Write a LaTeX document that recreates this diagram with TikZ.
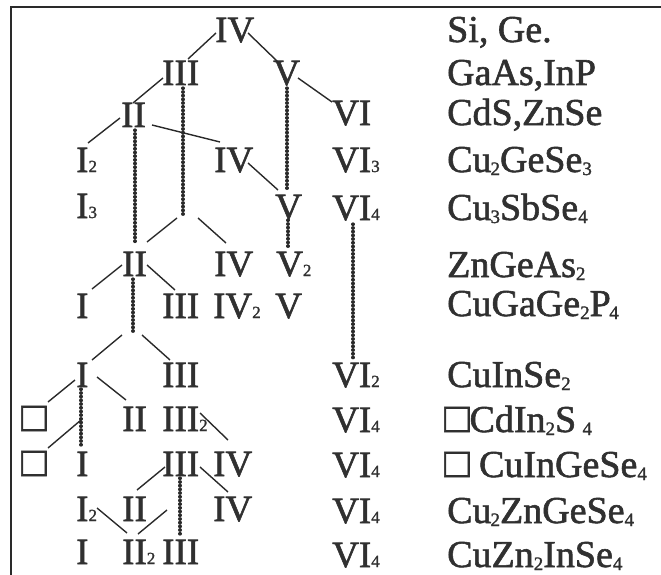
\documentclass[tikz,border=0pt]{standalone}
\usepackage{fontspec}
\setmainfont{Liberation Serif}[FakeBold=1.5]
\definecolor{txt}{HTML}{303030}
\definecolor{ln}{HTML}{2A2A2A}
\newcommand\lsub[1]{{\fontsize{17}{17}\selectfont #1}}
\newcommand\rsub[1]{\raisebox{-3pt}{\fontsize{19}{19}\selectfont #1}}
\newcommand\sqsym{{\fontsize{42}{42}\selectfont □}}
\begin{document}
\begin{tikzpicture}[x=1pt,y=-1pt,
  num/.style={anchor=base west,inner sep=0pt,font=\fontsize{37}{37}\selectfont,text=txt},
  frm/.style={anchor=base west,inner sep=0pt,font=\fontsize{38}{38}\selectfont,text=txt},
  link/.style={draw=ln,line width=1.4pt},
  chain/.style={draw=ln,line width=3.2pt,line cap=round,dash pattern=on 0.5pt off 3.2pt}]
\path[use as bounding box] (0,0) rectangle (661,575);
\draw[line width=1.5pt,draw=ln] (11,575) -- (11,7) -- (661,7);
% tree
\node[num] (a1) at (215,42) {IV};
\node[num] (b1) at (162,85) {III};
\node[num] (b2) at (273,85) {V};
\node[num] (c1) at (121,127) {II};
\node[num] (c2) at (332,125) {VI};
\node[num] (d1) at (76,172) {I\lsub{2}};
\node[num] (d2) at (214,172) {IV};
\node[num] (d3) at (332,172) {VI\lsub{3}};
\node[num] (e1) at (76,218) {I\lsub{3}};
\node[num] (e2) at (275,219) {V};
\node[num] (e3) at (332,220) {VI\lsub{4}};
\node[num] (f1) at (122,276) {II};
\node[num] (f2) at (214,276) {IV};
\node[num] (f3) at (276,276) {V\lsub{2}};
\node[num] (g1) at (76,318) {I};
\node[num] (g2) at (162,318) {III};
\node[num] (g3) at (213,318) {IV\lsub{2}};
\node[num] (g4) at (275,318) {V};
\node[num] (h1) at (76,387) {I};
\node[num] (h2) at (162,387) {III};
\node[num] (h3) at (332,387) {VI\lsub{2}};
\node[num] (i0) at (21,431) {\sqsym};
\node[num] (i1) at (122,431) {II};
\node[num] (i2) at (162,431) {III\lsub{2}};
\node[num] (i3) at (332,432) {VI\lsub{4}};
\node[num] (j0) at (21,476) {\sqsym};
\node[num] (j1) at (76,476) {I};
\node[num] (j2) at (162,476) {III};
\node[num] (j3) at (213,476) {IV};
\node[num] (j4) at (332,477) {VI\lsub{4}};
\node[num] (k1) at (76,521) {I\lsub{2}};
\node[num] (k2) at (122,521) {II};
\node[num] (k3) at (213,521) {IV};
\node[num] (k4) at (332,523) {VI\lsub{4}};
\node[num] (l1) at (76,564) {I};
\node[num] (l2) at (122,564) {II\lsub{2}};
\node[num] (l3) at (162,564) {III};
\node[num] (l4) at (332,567) {VI\lsub{4}};
% formulas
\node[frm] (r1) at (447,42) {Si, Ge.};
\node[frm] (r2) at (447,85) {GaAs,InP};
\node[frm] (r3) at (447,125) {CdS,ZnSe};
\node[frm] (r4) at (447,172) {Cu\kern-1pt\rsub{2}GeSe\rsub{3}};
\node[frm] (r5) at (447,220) {Cu\kern-1pt\rsub{3}SbSe\rsub{4}};
\node[frm] (r6) at (447,277) {ZnGeAs\rsub{2}};
\node[frm] (r7) at (447,316) {CuGaGe\rsub{2}P\kern-1.5pt\rsub{4}};
\node[frm] (r8) at (447,387) {CuInSe\rsub{2}};
\node[frm] (r9) at (444,432) {\sqsym CdIn\rsub{2}S\,\rsub{4}};
\node[frm] (r10) at (444,477) {\sqsym\ CuInGeSe\rsub{4}};
\node[frm] (r11) at (447,523) {Cu\kern-1pt\rsub{2}ZnGeSe\rsub{4}};
\node[frm] (r12) at (447,567) {CuZn\rsub{2}InSe\rsub{4}};
% branch points
\coordinate (t1) at (183,216);
\coordinate (t2) at (133,332);
\coordinate (t4) at (81,420);
\coordinate (t6) at (167,510);
% solid connectors
\draw[link] ([shift={(1,-9)}]a1.base west) -- ([shift={(26,-26)}]b1.base west);
\draw[link] ([shift={(33,-9)}]a1.base west) -- ([shift={(5,-23)}]b2.base west);
\draw[link] ([shift={(1,-7)}]b1.base west) -- ([shift={(12,-24)}]c1.base west);
\draw[link] ([shift={(25,-7)}]b2.base west) -- ([shift={(0,-23)}]c2.base west);
\draw[link] ([shift={(31,-2)}]c1.base west) -- ([shift={(6,-30)}]d2.base west);
\draw[link] ([shift={(-1,-9)}]c1.base west) -- ([shift={(12,-29)}]d1.base west);
\draw[link] ([shift={(34,-9)}]d2.base west) -- ([shift={(3,-29)}]e2.base west);
\draw[link] ([shift={(-6,2)}]t1) -- ([shift={(25,-34)}]f1.base west);
\draw[link] ([shift={(15,2)}]t1) -- ([shift={(12,-33)}]f2.base west);
\draw[link] ([shift={(0,-11)}]f1.base west) -- ([shift={(16,-29)}]g1.base west);
\draw[link] ([shift={(25,-11)}]f1.base west) -- ([shift={(13,-28)}]g2.base west);
\draw[link] ([shift={(-11,3)}]t2) -- ([shift={(16,-27)}]h1.base west);
\draw[link] ([shift={(9,3)}]t2) -- ([shift={(8,-27)}]h2.base west);
\draw[link] ([shift={(-1,-7)}]h1.base west) -- ([shift={(27,-29)}]i0.base west);
\draw[link] ([shift={(21,-10)}]h1.base west) -- ([shift={(4,-31)}]i1.base west);
\draw[link] (t4) -- ([shift={(27,-28)}]j0.base west);
\draw[link] ([shift={(38,-18)}]i2.base west) -- ([shift={(15,-36)}]j3.base west);
\draw[link] ([shift={(3,-9)}]j2.base west) -- ([shift={(15,-31)}]k2.base west);
\draw[link] ([shift={(38,-9)}]j2.base west) -- ([shift={(15,-29)}]k3.base west);
\draw[link] ([shift={(21,-13)}]k1.base west) -- ([shift={(5,-31)}]l2.base west);
\draw[link] (t6) -- ([shift={(16,-30)}]l2.base west);
% dotted connectors
\draw[chain] ([shift={(21,3)}]b1.base west) -- (t1);
\draw[chain] ([shift={(14,3)}]b2.base west) -- ([shift={(12,-29)}]e2.base west);
\draw[chain] ([shift={(14,3)}]c1.base west) -- ([shift={(13,-32)}]f1.base west);
\draw[chain] ([shift={(13,1)}]e2.base west) -- ([shift={(12,-28)}]f3.base west);
\draw[chain] ([shift={(21,4)}]e3.base west) -- ([shift={(21,-29)}]h3.base west);
\draw[chain] ([shift={(11,3)}]f1.base west) -- (t2);
\draw[chain] ([shift={(5,2)}]h1.base west) -- ([shift={(5,-31)}]j1.base west);
\draw[chain] ([shift={(18,2)}]j2.base west) -- ([shift={(18,-29)}]l3.base west);
\end{tikzpicture}
\end{document}
